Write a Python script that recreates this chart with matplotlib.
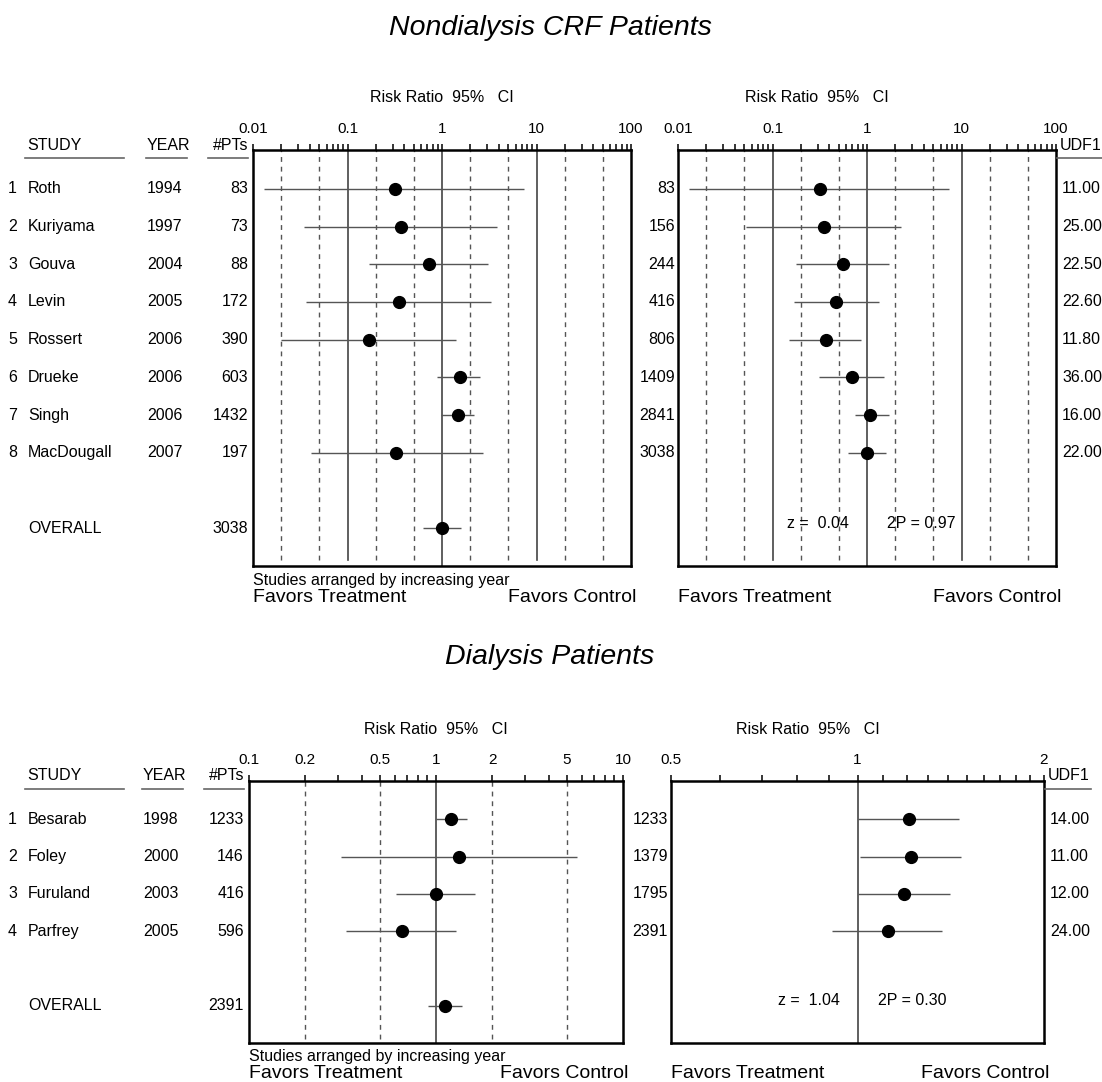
import matplotlib.pyplot as plt
from matplotlib import transforms
from matplotlib.lines import Line2D

plt.rcParams['font.family'] = ['Liberation Sans', 'DejaVu Sans']

W, H = 1102, 1082

# Nondialysis CRF trials, individual risk ratios with 95% CI
crf_study = ['Roth', 'Kuriyama', 'Gouva', 'Levin', 'Rossert', 'Drueke', 'Singh', 'MacDougall']
crf_year = [1994, 1997, 2004, 2005, 2006, 2006, 2006, 2007]
crf_pts = [83, 73, 88, 172, 390, 603, 1432, 197]
crf_rr = [0.315, 0.37, 0.72, 0.35, 0.17, 1.56, 1.48, 0.33]
crf_lo = [0.013, 0.035, 0.17, 0.036, 0.02, 0.88, 0.98, 0.041]
crf_hi = [7.3, 3.8, 3.05, 3.3, 1.4, 2.5, 2.2, 2.74]

# cumulative meta-analysis (last entry = overall)
crf_cum_pts = [83, 156, 244, 416, 806, 1409, 2841, 3038]
crf_cum_rr = [0.315, 0.35, 0.56, 0.47, 0.37, 0.70, 1.07, 1.00]
crf_cum_lo = [0.013, 0.052, 0.176, 0.17, 0.15, 0.31, 0.74, 0.63]
crf_cum_hi = [7.3, 2.27, 1.71, 1.35, 0.86, 1.5, 1.7, 1.58]
crf_udf1 = ['11.00', '25.00', '22.50', '22.60', '11.80', '36.00', '16.00', '22.00']
crf_z, crf_2p = '0.04', '0.97'

# Dialysis trials
dia_study = ['Besarab', 'Foley', 'Furuland', 'Parfrey']
dia_year = [1998, 2000, 2003, 2005]
dia_pts = [1233, 146, 416, 596]
dia_rr = [1.21, 1.32, 1.0, 0.66]
dia_lo = [1.0, 0.31, 0.61, 0.33]
dia_hi = [1.46, 5.7, 1.62, 1.28]

dia_cum_pts = [1233, 1379, 1795, 2391]
dia_cum_rr = [1.21, 1.22, 1.19, 1.12]
dia_cum_lo = [1.0, 1.01, 1.0, 0.91]
dia_cum_hi = [1.46, 1.47, 1.41, 1.37]
dia_udf1 = ['14.00', '11.00', '12.00', '24.00']
dia_z, dia_2p = '1.04', '0.30'

FS = 11.5
fig = plt.figure(figsize=(W / 100, H / 100), dpi=100)


def fx(x):
    return x / W


def fy(y):
    return 1 - y / H


def hline_px(x0, x1, y):
    fig.add_artist(Line2D([fx(x0), fx(x1)], [fy(y), fy(y)], transform=fig.transFigure,
                          color='#666666', lw=1.2))


def panel(left, top, right, bottom, xlim, nrows, major, labels, minor, dashed, solid,
          rows, rr, lo, hi):
    ax = fig.add_axes([fx(left), fy(bottom), (right - left) / W, (bottom - top) / H])
    ax.set_xscale('log')
    ax.set_xlim(*xlim)
    ax.set_ylim(nrows + 2, -1.03)
    ax.set_yticks([])
    ax.xaxis.tick_top()
    ax.set_xticks(major, labels)
    ax.set_xticks(minor, minor=True)
    ax.xaxis.set_minor_formatter(plt.NullFormatter())
    ax.tick_params(axis='x', which='both', direction='out', length=4, width=1.1,
                   pad=6, labelsize=11, colors='black')
    for s in ax.spines.values():
        s.set_linewidth(1.8)
    for v in dashed:
        ax.axvline(v, ymin=0.015, color='#555555', lw=1, dashes=(3.5, 3.5))
    for v in solid:
        ax.axvline(v, ymin=0 if v == 1 else 0.015, color='#444444', lw=1.2)
    ax.hlines(rows, lo, hi, color='#555555', lw=1)
    ax.plot(rr, rows, 'o', color='black', ms=8.5, zorder=3)
    return ax


def left_columns(ax, left, top, names, years, pts, total):
    tr = transforms.blended_transform_factory(fig.transFigure, ax.transData)
    name_x, year_x, pts_x = 28, left - 106, left - 5
    for i, (nm, yr, p) in enumerate(zip(names, years, pts)):
        ax.text(fx(8), i, str(i + 1), transform=tr, va='center', fontsize=FS)
        ax.text(fx(name_x), i, nm, transform=tr, va='center', fontsize=FS)
        ax.text(fx(year_x), i, str(yr), transform=tr, va='center', fontsize=FS)
        ax.text(fx(pts_x), i, str(p), transform=tr, va='center', ha='right', fontsize=FS)
    k = len(names) + 1
    ax.text(fx(name_x), k, 'OVERALL', transform=tr, va='center', fontsize=FS)
    ax.text(fx(pts_x), k, str(total), transform=tr, va='center', ha='right', fontsize=FS)
    hy = top - 5
    fig.text(fx(27), fy(hy), 'STUDY', va='center', fontsize=FS)
    fig.text(fx(year_x), fy(hy), 'YEAR', va='center', fontsize=FS)
    fig.text(fx(pts_x), fy(hy), '#PTs', va='center', ha='right', fontsize=FS)
    hline_px(25, 124, top + 8)
    hline_px(year_x - 1, year_x + 40, top + 8)
    hline_px(pts_x - 40, pts_x, top + 8)


def right_columns(ax, left, right, top, cum_pts, udf):
    tr = transforms.blended_transform_factory(fig.transFigure, ax.transData)
    for i, (p, u) in enumerate(zip(cum_pts, udf)):
        ax.text(fx(left - 3), i, str(p), transform=tr, va='center', ha='right', fontsize=FS)
        ax.text(fx(right + 6), i, u, transform=tr, va='center', fontsize=FS)
    fig.text(fx(right + 4), fy(top - 5), 'UDF1', va='center', fontsize=FS)
    hline_px(right + 1, right + 47, top + 8)


def stats_text(ax, row, z, p2):
    off_l = transforms.ScaledTranslation(-18 / 100, 0, fig.dpi_scale_trans)
    off_r = transforms.ScaledTranslation(20 / 100, 0, fig.dpi_scale_trans)
    ax.text(1, row, 'z =  ' + z, transform=ax.transData + off_l, ha='right', va='center',
            fontsize=FS)
    ax.text(1, row, '2P = ' + p2, transform=ax.transData + off_r, ha='left', va='center',
            fontsize=FS)


def bottom_texts(left, right, bottom, studies_note):
    if studies_note:
        fig.text(fx(left), fy(bottom + 14), 'Studies arranged by increasing year',
                 va='center', fontsize=FS)
    fig.text(fx(left), fy(bottom + 31), 'Favors Treatment', va='center', fontsize=14)
    fig.text(fx(right + 5), fy(bottom + 31), 'Favors Control', va='center', ha='right',
             fontsize=14)


def rr_label(x, top):
    fig.text(fx(x), fy(top - 52), 'Risk Ratio  95%   CI', va='center', ha='center',
             fontsize=FS)


# ---- Nondialysis CRF patients ----
fig.text(fx(550), fy(28), 'Nondialysis CRF Patients', ha='center', va='center',
         fontsize=20.5, style='italic')

wide_major = [0.01, 0.1, 1, 10, 100]
wide_labels = ['0.01', '0.1', '1', '10', '100']
wide_minor = [m * 10.0 ** e for e in range(-2, 2) for m in range(2, 10)]
wide_dashed = [0.02, 0.05, 0.2, 0.5, 2, 5, 20, 50]
wide_solid = [0.1, 1, 10]
n = len(crf_study)

# trials plus the overall estimate, one empty row between them
ax1 = panel(253, 150, 631, 566, (0.01, 100), n, wide_major, wide_labels, wide_minor,
            wide_dashed, wide_solid, list(range(n)) + [n + 1],
            crf_rr + crf_cum_rr[-1:], crf_lo + crf_cum_lo[-1:], crf_hi + crf_cum_hi[-1:])
left_columns(ax1, 253, 150, crf_study, crf_year, crf_pts, crf_cum_pts[-1])
rr_label((253 + 631) / 2, 150)
bottom_texts(253, 631, 566, True)

ax2 = panel(678, 150, 1056, 566, (0.01, 100), n, wide_major, wide_labels, wide_minor,
            wide_dashed, wide_solid, list(range(n)), crf_cum_rr, crf_cum_lo, crf_cum_hi)
right_columns(ax2, 678, 1056, 150, crf_cum_pts, crf_udf1)
stats_text(ax2, n + 0.87, crf_z, crf_2p)
rr_label((678 + 1056) / 2 - 50, 150)
bottom_texts(678, 1056, 566, False)

# ---- Dialysis patients ----
fig.text(fx(550), fy(657), 'Dialysis Patients', ha='center', va='center',
         fontsize=20.5, style='italic')
m = len(dia_study)

ax3 = panel(249, 781, 623, 1043, (0.1, 10), m, [0.1, 0.2, 0.5, 1, 2, 5, 10],
            ['0.1', '0.2', '0.5', '1', '2', '5', '10'],
            [0.3, 0.4, 0.6, 0.7, 0.8, 0.9, 3, 4, 6, 7, 8, 9],
            [0.2, 0.5, 2, 5], [1], list(range(m)) + [m + 1],
            dia_rr + dia_cum_rr[-1:], dia_lo + dia_cum_lo[-1:], dia_hi + dia_cum_hi[-1:])
left_columns(ax3, 249, 781, dia_study, dia_year, dia_pts, dia_cum_pts[-1])
rr_label((249 + 623) / 2, 781)
bottom_texts(249, 623, 1043, True)

ax4 = panel(671, 781, 1044, 1043, (0.5, 2), m, [0.5, 1, 2], ['0.5', '1', '2'],
            [0.6, 0.7, 0.8, 0.9] + [1 + k / 10 for k in range(1, 10)],
            [], [1], list(range(m)), dia_cum_rr, dia_cum_lo, dia_cum_hi)
right_columns(ax4, 671, 1044, 781, dia_cum_pts, dia_udf1)
stats_text(ax4, m + 0.87, dia_z, dia_2p)
rr_label((671 + 1044) / 2 - 50, 781)
bottom_texts(671, 1044, 1043, False)

fig.savefig('out.png', dpi=100, facecolor='white')
